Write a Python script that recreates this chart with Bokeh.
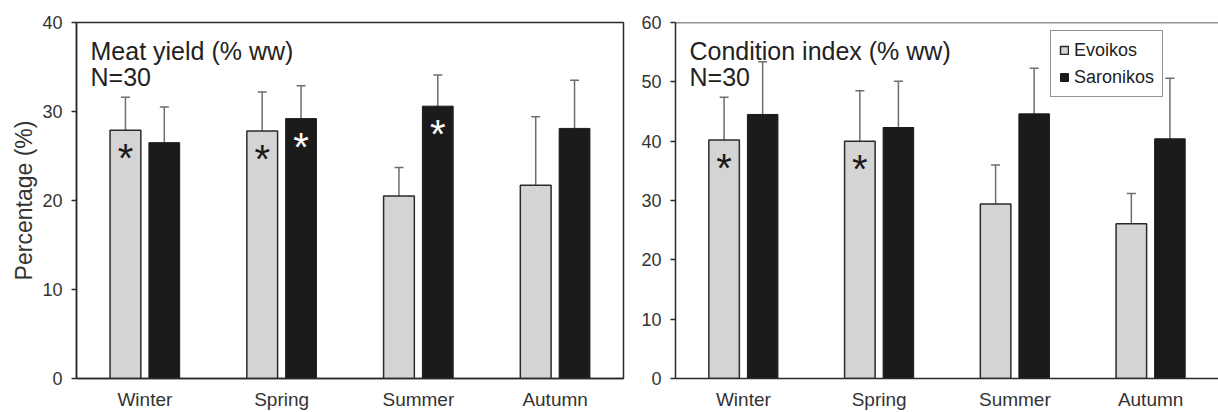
from bokeh.plotting import figure
from bokeh.layouts import row
from bokeh.models import (ColumnDataSource, Label, Legend, LegendItem, Span,
                          FactorRange, Range1d, FixedTicker)
from bokeh.transform import dodge
from bokeh.core.properties import value
from bokeh.embed import file_html
from bokeh.resources import INLINE

# ---------------- data ----------------
seasons = ["Winter", "Spring", "Summer", "Autumn"]

meat_evoikos = [27.9, 27.8, 20.5, 21.7]
meat_evoikos_err = [3.7, 4.4, 3.2, 7.7]
meat_saronikos = [26.5, 29.2, 30.6, 28.1]
meat_saronikos_err = [4.0, 3.7, 3.5, 5.4]
meat_evoikos_sig = ["*", "*", "", ""]
meat_saronikos_sig = ["", "*", "*", ""]

ci_evoikos = [40.2, 40.0, 29.4, 26.1]
ci_evoikos_err = [7.2, 8.5, 6.6, 5.1]
ci_saronikos = [44.5, 42.3, 44.6, 40.4]
ci_saronikos_err = [8.9, 7.8, 7.7, 10.2]
ci_evoikos_sig = ["*", "*", "", ""]
ci_saronikos_sig = ["", "", "", ""]

meat_ticks = [0, 10, 20, 30, 40]
ci_ticks = [0, 10, 20, 30, 40, 50, 60]

series_names = ["Evoikos", "Saronikos"]
panel_titles = [["Meat yield (% ww)", "N=30"], ["Condition index (% ww)", "N=30"]]
y_label = "Percentage (%)"

FONT = "Liberation Sans"
EVO_FILL = "#d4d4d4"
SAR_FILL = "#1b1b1b"
DARK = "#2a2a2a"
ERR = "#6e6e6e"


def make_panel(evo, evo_err, sar, sar_err, evo_sig, sar_sig, ticks, titles,
               width, border_left, border_right, ylabel=None, legend=False,
               full_outline=True):
    src = ColumnDataSource(dict(
        season=seasons,
        evo=evo, evo_up=[v + e for v, e in zip(evo, evo_err)], evo_sig=evo_sig,
        sar=sar, sar_up=[v + e for v, e in zip(sar, sar_err)], sar_sig=sar_sig,
    ))
    p = figure(x_range=FactorRange(factors=seasons, range_padding=0),
               y_range=Range1d(ticks[0], ticks[-1]),
               width=width, height=412, output_backend="svg",
               toolbar_location=None,
               min_border_left=border_left, min_border_right=border_right,
               min_border_top=22, min_border_bottom=32)
    p.xgrid.visible = False
    p.ygrid.visible = False
    p.background_fill_color = "white"
    p.border_fill_color = "white"
    if full_outline:
        p.outline_line_color = DARK
        p.outline_line_width = 1.5
    else:
        p.outline_line_color = None
        p.add_layout(Span(location=ticks[-1], dimension="width",
                          line_color=DARK, line_width=1.5))

    xe = dodge("season", -0.142, range=p.x_range)
    xs = dodge("season", 0.142, range=p.x_range)
    bw = 0.225

    # error bars (upper only)
    for xx, lo, hi in ((xe, "evo", "evo_up"), (xs, "sar", "sar_up")):
        p.segment(x0=xx, y0=lo, x1=xx, y1=hi, source=src,
                  line_color=ERR, line_width=1.5)
        p.scatter(x=xx, y=hi, source=src, marker="dash", size=9,
                  line_color=ERR, line_width=1.5)

    r_evo = p.vbar(x=xe, top="evo", width=bw, source=src,
                   fill_color=EVO_FILL, line_color=DARK, line_width=1.5)
    r_sar = p.vbar(x=xs, top="sar", width=bw, source=src,
                   fill_color=SAR_FILL, line_color=SAR_FILL, line_width=1)

    # significance asterisks
    p.text(x=xe, y="evo", text="evo_sig", source=src, text_align="center",
           text_baseline="middle", text_font=value(FONT),
           text_font_size="40px", text_color="#1a1a1a", y_offset=28)
    p.text(x=xs, y="sar", text="sar_sig", source=src, text_align="center",
           text_baseline="middle", text_font=value(FONT),
           text_font_size="40px", text_color="white", y_offset=28)

    # axes
    for ax in (p.xaxis[0], p.yaxis[0]):
        ax.axis_line_color = DARK
        ax.axis_line_width = 1.5
        ax.minor_tick_line_color = None
        ax.major_label_text_font = FONT
        ax.major_label_text_color = "#333333"
    p.xaxis.major_tick_line_color = None
    p.xaxis.major_tick_out = 0
    p.xaxis.major_tick_in = 0
    p.xaxis.major_label_text_font_size = "19px"
    p.xaxis.major_label_standoff = 10
    p.yaxis.ticker = FixedTicker(ticks=ticks)
    p.yaxis.major_tick_line_color = DARK
    p.yaxis.major_tick_line_width = 1.5
    p.yaxis.major_tick_out = 5
    p.yaxis.major_tick_in = 0
    p.yaxis.major_label_text_font_size = "18px"
    p.yaxis.major_label_standoff = 9
    if ylabel:
        p.yaxis.axis_label = ylabel
        p.yaxis.axis_label_text_font = FONT
        p.yaxis.axis_label_text_font_style = "normal"
        p.yaxis.axis_label_text_font_size = "23px"
        p.yaxis.axis_label_text_color = "#333333"
        p.yaxis.axis_label_standoff = 2

    # panel titles
    for i, t in enumerate(titles):
        p.add_layout(Label(x=0, y=ticks[-1], x_offset=14, y_offset=-28 - 26.7 * i,
                           text=t, text_font=FONT, text_font_size="25px",
                           text_color="#222222", text_baseline="alphabetic"))

    if legend:
        lg = Legend(items=[LegendItem(label=series_names[0], renderers=[r_evo]),
                           LegendItem(label=series_names[1], renderers=[r_sar])],
                    location=(375, 281), margin=0, padding=8,
                    glyph_width=10, glyph_height=10, label_standoff=5,
                    label_height=22, spacing=5,
                    label_text_font=FONT, label_text_font_size="18px",
                    label_text_color="#222222",
                    border_line_color=DARK, border_line_width=1.5,
                    background_fill_color="white", background_fill_alpha=1)
        p.add_layout(lg)
    return p


p1 = make_panel(meat_evoikos, meat_evoikos_err, meat_saronikos, meat_saronikos_err,
                meat_evoikos_sig, meat_saronikos_sig, meat_ticks, panel_titles[0],
                width=632, border_left=76, border_right=9, ylabel=y_label)
p2 = make_panel(ci_evoikos, ci_evoikos_err, ci_saronikos, ci_saronikos_err,
                ci_evoikos_sig, ci_saronikos_sig, ci_ticks, panel_titles[1],
                width=586, border_left=43, border_right=0, legend=True,
                full_outline=False)

layout = row(p1, p2)
open("out.html", "w").write(file_html(layout, INLINE))
